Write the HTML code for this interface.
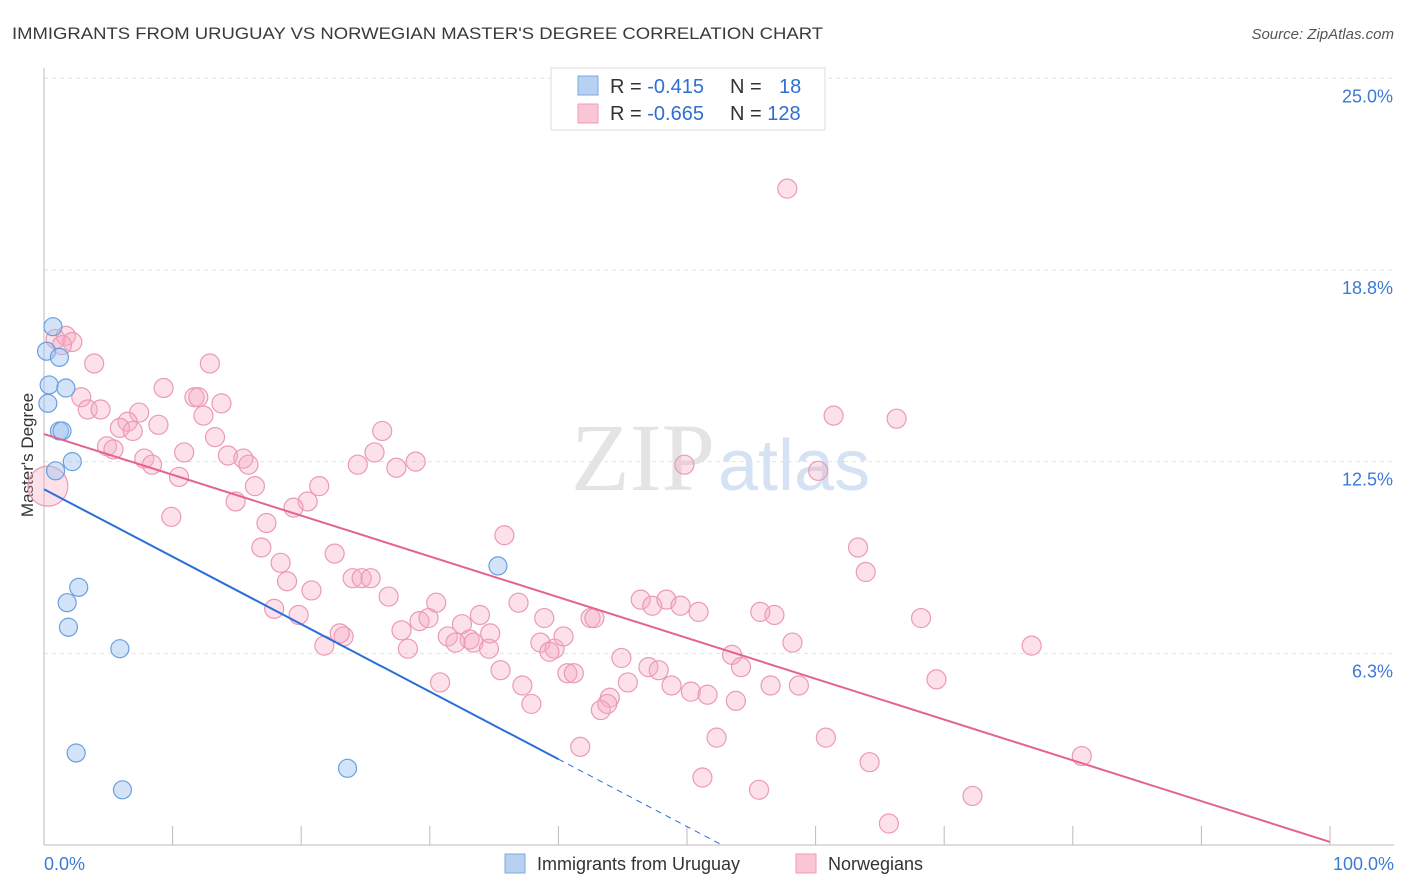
<!DOCTYPE html>
<html><head><meta charset="utf-8"><style>
body{margin:0;background:#fff;font-family:"Liberation Sans",sans-serif;}
svg{display:block}
</style></head><body>
<svg id="chart" width="1406" height="892" viewBox="0 0 1406 892">
<text x="12" y="39" font-size="17" fill="#3a3a3a" textLength="811" lengthAdjust="spacingAndGlyphs">IMMIGRANTS FROM URUGUAY VS NORWEGIAN MASTER'S DEGREE CORRELATION CHART</text>
<text x="1394" y="39" font-size="15" fill="#555" text-anchor="end" font-style="italic">Source: ZipAtlas.com</text>
<text x="715" y="490" font-size="96" font-family="Liberation Serif,serif" fill="#e4e4e4" text-anchor="end">ZIP</text>
<text x="718" y="490" font-size="72" fill="#d4e2f4">atlas</text>
<text transform="translate(33,455) rotate(-90)" font-size="17" fill="#333" text-anchor="middle">Master's Degree</text>
<g id="grid"></g><g id="axes"></g><g id="pts"></g><g id="lines"></g>
<g>
<rect x="551" y="68" width="274" height="62" fill="#fff" stroke="#ddd"/>
<rect x="578" y="76" width="20" height="19" fill="#b7d1f3" stroke="#7fa9e0"/>
<rect x="578" y="104" width="20" height="19" fill="#fac6d5" stroke="#f09ab4"/>
<text x="610" y="93" font-size="20" fill="#333">R = <tspan fill="#2f6fd0"> -0.415</tspan></text>
<text x="730" y="93" font-size="20" fill="#333">N = <tspan fill="#2f6fd0" x="779">18</tspan></text>
<text x="610" y="120" font-size="20" fill="#333">R = <tspan fill="#2f6fd0">-0.665</tspan></text>
<text x="730" y="120" font-size="20" fill="#333">N = <tspan fill="#2f6fd0">128</tspan></text>
</g>
<g>
<rect x="505" y="854" width="20" height="19" fill="#b7d1f3" stroke="#7fa9e0"/>
<text x="537" y="870" font-size="18" fill="#333">Immigrants from Uruguay</text>
<rect x="796" y="854" width="20" height="19" fill="#fac6d5" stroke="#f09ab4"/>
<text x="828" y="870" font-size="18" fill="#333">Norwegians</text>
</g>
</svg>
<script>
const yTicks=[6.25,12.5,18.75,25];
const yTickLabels=["6.3%","12.5%","18.8%","25.0%"];
const xTickLabels=["0.0%","100.0%"];
const blueX=[0.7,0.2,1.2,0.4,1.7,0.3,1.2,1.4,2.2,0.9,2.7,1.8,1.9,5.9,2.5,6.1,23.6,35.3];
const blueY=[16.9,16.1,15.9,15.0,14.9,14.4,13.5,13.5,12.5,12.2,8.4,7.9,7.1,6.4,3.0,1.8,2.5,9.1];
const pinkX=[57.8,0.9,1.7,2.2,1.4,3.9,12.9,9.3,2.9,11.7,12.0,13.8,3.4,4.4,7.4,12.4,6.5,5.9,8.9,6.9,13.3,4.9,5.4,10.9,7.8,8.4,14.3,15.5,15.9,10.5,16.4,14.9,9.9,17.3,16.9,26.3,25.7,24.4,27.4,28.9,21.4,20.5,19.4,35.8,22.6,18.4,18.9,20.8,24.0,24.7,25.4,26.8,30.5,17.9,19.8,23.3,23.0,21.8,27.8,28.3,29.2,29.9,31.4,32.5,33.9,34.7,33.1,32.0,33.4,34.6,36.9,38.9,38.6,39.7,39.3,40.4,42.5,42.8,46.4,47.3,48.4,49.5,50.9,44.9,35.5,37.2,37.9,40.7,41.2,30.8,41.7,44.0,43.3,43.8,45.4,47.0,47.8,48.8,50.3,51.6,53.8,53.5,54.2,55.7,56.8,58.2,56.5,58.7,49.8,60.2,61.4,66.3,63.3,63.9,68.2,69.4,60.8,52.3,51.2,55.6,64.2,65.7,72.2,76.8,80.7];
const pinkY=[21.4,16.5,16.6,16.4,16.3,15.7,15.7,14.9,14.6,14.6,14.6,14.4,14.2,14.2,14.1,14.0,13.8,13.6,13.7,13.5,13.3,13.0,12.9,12.8,12.6,12.4,12.7,12.6,12.4,12.0,11.7,11.2,10.7,10.5,9.7,13.5,12.8,12.4,12.3,12.5,11.7,11.2,11.0,10.1,9.5,9.2,8.6,8.3,8.7,8.7,8.7,8.1,7.9,7.7,7.5,6.8,6.9,6.5,7.0,6.4,7.3,7.4,6.8,7.2,7.5,6.9,6.7,6.6,6.6,6.4,7.9,7.4,6.6,6.4,6.3,6.8,7.4,7.4,8.0,7.8,8.0,7.8,7.6,6.1,5.7,5.2,4.6,5.6,5.6,5.3,3.2,4.8,4.4,4.6,5.3,5.8,5.7,5.2,5.0,4.9,4.7,6.2,5.8,7.6,7.5,6.6,5.2,5.2,12.4,12.2,14.0,13.9,9.7,8.9,7.4,5.4,3.5,3.5,2.2,1.8,2.7,0.7,1.6,6.5,2.9];
const bigPinkX=[0.3], bigPinkY=[11.7];
const blueTrend=[11.6,-0.22]; const pinkTrend=[13.4,-0.133];
const X=v=>44+v*12.86, Y=v=>845-v*30.67;
const NS="http://www.w3.org/2000/svg";
function mk(tag,attrs,parent){const e=document.createElementNS(NS,tag);for(const k in attrs)e.setAttribute(k,attrs[k]);document.getElementById(parent).appendChild(e);return e;}
yTicks.forEach((t,i)=>{
 const g=mk('line',{x1:44,x2:1394,y1:Y(t),y2:Y(t),stroke:'#e2e2e2','stroke-dasharray':'4,4'},'grid');
 
 
 const l=mk('text',{x:1393,y:Y(t)+24,'font-size':18,fill:'#3d7ad6','text-anchor':'end'},'axes');l.textContent=yTickLabels[i];
 
 
});
const ax=mk('line',{x1:44,x2:44,y1:68,y2:845,stroke:'#bbb'},'axes');


const bx=mk('line',{x1:44,x2:1394,y1:845,y2:845,stroke:'#bbb'},'axes');


for(let i=0;i<=10;i++){const t=mk('line',{x1:X(i*10),x2:X(i*10),y1:826,y2:845,stroke:'#bbb'},'axes');
 
 }
[[0,'start',44],[100,'end',1394]].forEach((d,i)=>{const t=mk('text',{x:d[2],y:870,'font-size':18,fill:'#3d7ad6','text-anchor':d[1]},'axes');t.textContent=xTickLabels[i];
 
 });
pinkX.forEach((x,i)=>{const c=mk('circle',{cx:X(x),cy:Y(pinkY[i]),r:9.5,fill:'rgba(247,170,195,0.35)',stroke:'#eb9ab4','stroke-width':1.2},'pts');
 
 });
bigPinkX.forEach((x,i)=>{const c=mk('circle',{cx:X(x),cy:Y(bigPinkY[i]),r:20,fill:'rgba(247,170,195,0.35)',stroke:'#eb9ab4','stroke-width':1.2},'pts');
 
 });
blueX.forEach((x,i)=>{const c=mk('circle',{cx:X(x),cy:Y(blueY[i]),r:9,fill:'rgba(160,195,240,0.45)',stroke:'#6a9fe0','stroke-width':1.2},'pts');
 
 });
const bl=mk('line',{x1:X(0),y1:Y(blueTrend[0]),x2:X(40),y2:Y(blueTrend[0]+blueTrend[1]*40),stroke:'#2a6fd6','stroke-width':2},'lines');


const xe=-blueTrend[0]/blueTrend[1];
const bd=mk('line',{x1:X(40),y1:Y(blueTrend[0]+blueTrend[1]*40),x2:X(xe),y2:Y(0),stroke:'#2a6fd6','stroke-width':1,'stroke-dasharray':'6,5'},'lines');


const pl=mk('line',{x1:X(0),y1:Y(pinkTrend[0]),x2:X(100),y2:Y(pinkTrend[0]+pinkTrend[1]*100),stroke:'#e4648f','stroke-width':2},'lines');


</script>
</body></html>
